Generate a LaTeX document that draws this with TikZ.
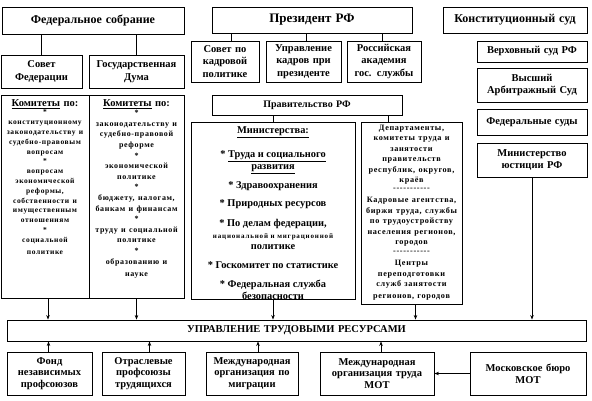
\documentclass[tikz,border=0pt]{standalone}
\usepackage{fontspec}
\setmainfont{Liberation Serif}
\usetikzlibrary{arrows.meta,calc}
\newcommand\bx[7][]{%
  \pgfmathsetmacro\bxw{#5-#3}\pgfmathsetmacro\bxh{#6-#4}%
  \pgfmathsetmacro\bxcx{(#3+#5)/2}\pgfmathsetmacro\bxcy{(#4+#6)/2}%
  \pgfmathsetmacro\bxtw{#5-#3-4}%
  \node[bx,minimum width=\bxw pt,minimum height=\bxh pt,text width=\bxtw pt,#1] (#2) at (\bxcx,\bxcy) {#7};}
\newcommand\fs[2]{\fontsize{#1}{#2}\selectfont}
\newcommand\ls{\addfontfeatures{LetterSpace=8}}
\newcommand\st{\relax*}
\newcommand\dsh{{-}{-}{-}{-}{-}{-}{-}{-}{-}{-}{-}}
\begin{document}
\begin{tikzpicture}[x=1pt,y=-1pt,
  bx/.style={draw,line width=0.9pt,inner sep=0pt,align=center,font=\bfseries\fs{10.5}{12.5}},
  txt/.style={inner sep=0pt,align=center},
  mt/.style={inner sep=0pt,anchor=mid,font=\bfseries\fs{10.4}{12}},
  arr/.style={line width=0.8pt,-{Stealth[length=4.5pt,width=3.5pt]}},
  ln/.style={line width=0.8pt}]
\useasboundingbox (0,0) rectangle (592,401);
% top row
\bx[font=\bfseries\fs{12}{14}]{fsob}{2}{7}{184}{34}{Федеральное собрание}
\bx[font=\bfseries\fs{13}{15}]{pres}{212}{7}{412}{33}{Президент РФ}
\bx[font=\bfseries\fs{12}{14}]{ksud}{443}{7}{587}{33}{Конституционный суд}
% second row
\bx{sfed}{1}{55}{82}{88}{Совет\\Федерации}
\bx{gduma}{89}{55}{184}{88}{Государственная\\Дума}
\bx{skp}{191}{41}{259}{82}{Совет по\\кадровой\\политике}
\bx{ukp}{266}{41}{341}{82}{Управление\\кадров при\\президенте}
\bx{rag}{347}{41}{421}{82}{Российская\\академия\\гос. службы}
% courts
\bx{vsud}{477}{41}{587}{62}{Верховный суд РФ}
\bx{asud}{477}{68}{587}{102}{Высший\\Арбитражный Суд}
\bx{fsud}{477}{109}{587}{135}{Федеральные суды}
\bx{mju}{477}{143}{587}{177}{Министерство\\юстиции РФ}
% government
\bx[font=\bfseries\fs{10}{12}]{gov}{212}{95}{402}{115}{Правительство РФ}
% committees
\bx{komL}{1}{95}{89}{298}{}
\bx{komR}{89}{95}{184}{298}{}
\node[txt,anchor=north,text width=86pt] (komLt) at ([yshift=-5pt]komL.north)
 {\bfseries\fs{10.5}{10}\underline{Комитеты} по:\\[-1.5pt]
  \fs{7.5}{9.8}\ls \st\\ конституционному\\ законодательству и\\ судебно-правовым\\ вопросам\\ \st\\ вопросам\\ экономической\\ реформы,\\ собственности и\\ имущественным\\ отношениям\\ \st\\ социальной\\ политике};
\node[txt,anchor=north,text width=93pt] (komRt) at ([yshift=-5pt]komR.north)
 {\bfseries\fs{10.5}{10}\underline{Комитеты} по:\\[-1.5pt]
  \fs{8}{10.6}\ls \st\\ законодательству и\\ судебно-правовой\\ реформе\\ \st\\ экономической\\ политике\\ \st\\ бюджету, налогам,\\ банкам и финансам\\ \st\\ труду и социальной\\ политике\\ \st\\ образованию и\\ науке};
% ministries
\bx{mins}{191}{122}{355}{299}{}
\node[mt] (m1) at (273,131) {\underline{Министерства:}};
\node[mt] (m2) at (273,155) {\st{} \underline{Труда и социального}};
\node[mt] (m3) at (273,167) {\underline{развития}};
\node[mt] (m4) at (273,186) {\st{} Здравоохранения};
\node[mt] (m5) at (273,204) {\st{} Природных ресурсов};
\node[mt] (m6) at (273,224) {\st{} По делам федерации,};
\node[mt,font=\bfseries\fs{7}{8}\addfontfeatures{LetterSpace=12}] (m7) at (273,236) {национальной и миграционной};
\node[mt] (m8) at (273,247) {политике};
\node[mt] (m9) at (273,266) {\st{} Госкомитет по статистике};
\node[mt] (m10) at (273,285) {\st{} Федеральная служба};
\node[mt] (m11) at (273,297) {безопасности};
% departments
\bx{deps}{361}{122}{462}{304}{}
\node[txt,anchor=north,text width=100pt] (depst) at ([yshift=-3pt]deps.north)
 {\bfseries\fs{8.2}{10.5}\ls Департаменты,\\ комитеты труда и\\ занятости\\ правительств\\ республик, округов,\\ краёв\\[-2.5pt] \dsh\\[1.5pt] Кадровые агентства,\\ биржи труда, службы\\ по трудоустройству\\ населения регионов,\\ городов\\[-1.5pt] \dsh\\[1.5pt] Центры\\ переподготовки\\ служб занятости\\ регионов, городов};
% labour management
\bx{utr}{7}{320}{586}{341}{УПРАВЛЕНИЕ ТРУДОВЫМИ РЕСУРСАМИ}
% bottom row
\bx[font=\bfseries\fs{10.5}{11.8}]{fond}{7}{352}{92}{395}{Фонд\\независимых\\профсоюзов}
\bx[font=\bfseries\fs{10.5}{11.8}]{otr}{102}{352}{185}{395}{Отраслевые\\профсоюзы\\трудящихся}
\bx[font=\bfseries\fs{10.5}{11.8}]{mom}{206}{352}{298}{395}{Международная\\организация по\\миграции}
\bx[font=\bfseries\fs{10.5}{11.8}]{mot}{320}{352}{434}{395}{Международная\\организация труда\\МОТ}
\bx[font=\bfseries\fs{10.5}{11.8}]{mbm}{470}{352}{586}{395}{Московское бюро\\МОТ}
% connector anchors
\coordinate (cskp) at ([xshift=6pt]skp.north);
\coordinate (cukp) at ([xshift=3pt]ukp.north);
\coordinate (crag) at ([xshift=-2pt]rag.north);
\coordinate (cdep) at ([xshift=-23pt]deps.north);
\coordinate (ckl) at ([xshift=3pt]komL.south);
\coordinate (cdb) at ([xshift=4pt]deps.south);
\coordinate (cfond) at ([xshift=-1pt]fond.north);
\coordinate (cotr) at ([xshift=6pt]otr.north);
\coordinate (cmom) at ([xshift=6pt]mom.north);
\coordinate (cmot) at ([xshift=4pt]mot.north);
% connectors
\draw[ln] (fsob.south -| sfed.north) -- (sfed.north);
\draw[ln] (fsob.south -| gduma.north) -- (gduma.north);
\draw[ln] (pres.south -| cskp) -- (cskp);
\draw[ln] (pres.south -| cukp) -- (cukp);
\draw[ln] (pres.south -| crag) -- (crag);
\draw[ln] (gov.south -| mins.north) -- (mins.north);
\draw[ln] (gov.south -| cdep) -- (cdep);
\draw[arr] (ckl) -- (utr.north -| ckl);
\draw[arr] (komR.south) -- (utr.north -| komR.south);
\draw[arr] (mins.south) -- (utr.north -| mins.south);
\draw[arr] (cdb) -- (utr.north -| cdb);
\draw[arr] (mju.south) -- (utr.north -| mju.south);
\draw[arr] (cfond) -- (utr.south -| cfond);
\draw[arr] (cotr) -- (utr.south -| cotr);
\draw[arr] (cmom) -- (utr.south -| cmom);
\draw[arr] (cmot) -- (utr.south -| cmot);
\draw[arr] (mbm.west) -- (mot.east);
\end{tikzpicture}
\end{document}
